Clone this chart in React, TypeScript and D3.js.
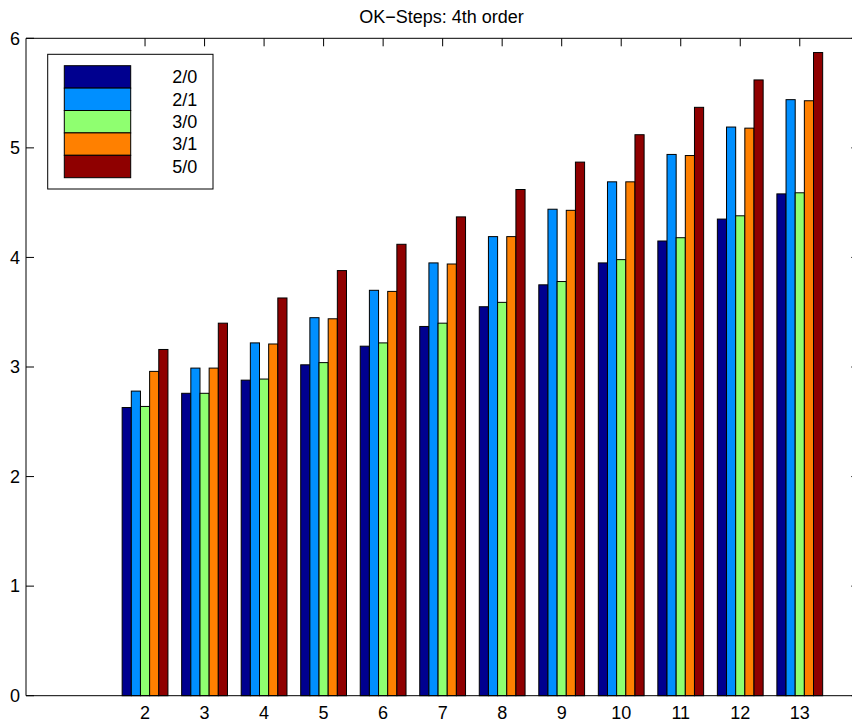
import React from "react";
import * as d3 from "d3";

// Step counts on the x axis
const steps = [2, 3, 4, 5, 6, 7, 8, 9, 10, 11, 12, 13];

// Series labels and colours
const seriesNames = ["2/0", "2/1", "3/0", "3/1", "5/0"];
const seriesColors = ["#00008F", "#008FFF", "#8FFF70", "#FF8000", "#8F0000"];

// Values per series, one entry per step
const s20 = [2.63, 2.76, 2.88, 3.02, 3.19, 3.37, 3.55, 3.75, 3.95, 4.15, 4.35, 4.58];
const s21 = [2.78, 2.99, 3.22, 3.45, 3.70, 3.95, 4.19, 4.44, 4.69, 4.94, 5.19, 5.44];
const s30 = [2.64, 2.76, 2.89, 3.04, 3.22, 3.40, 3.59, 3.78, 3.98, 4.18, 4.38, 4.59];
const s31 = [2.96, 2.99, 3.21, 3.44, 3.69, 3.94, 4.19, 4.43, 4.69, 4.93, 5.18, 5.43];
const s50 = [3.16, 3.40, 3.63, 3.88, 4.12, 4.37, 4.62, 4.87, 5.12, 5.37, 5.62, 5.87];
const seriesValues = [s20, s21, s30, s31, s50];

const yTicks = [0, 1, 2, 3, 4, 5, 6];

const W = 852;
const H = 724;
const left = 26;
const right = 859.3;
const top = 38.3;
const bottom = 695.7;
const tickLen = 8;
const font = "'Liberation Sans', Arial, Helvetica, sans-serif";
const fs = 18;

export default function App() {
  const x = d3.scaleLinear().domain([0, 14]).range([left, right]);
  const y = d3.scaleLinear().domain([0, 6]).range([bottom, top]);

  const n = seriesNames.length;
  const groupWidth = Math.min(0.8, n / (n + 1.5));
  const barW = groupWidth / n;

  return (
    <svg
      width={W}
      height={H}
      style={{ position: "absolute", left: 0, top: 0, background: "#fff" }}
      fontFamily={font}
    >
      <rect x={0} y={0} width={W} height={H} fill="#fff" />
      <text x={441.5} y={23} textAnchor="middle" fontSize={fs} fill="#000">
        OK−Steps: 4th order
      </text>

      {/* bars */}
      {steps.map((s, i) => (
        <g key={s}>
          {seriesValues.map((vals, k) => {
            const x0 = x(s - groupWidth / 2 + k * barW);
            const x1 = x(s - groupWidth / 2 + (k + 1) * barW);
            return (
              <rect
                key={k}
                x={x0}
                y={y(vals[i])}
                width={x1 - x0}
                height={y(0) - y(vals[i])}
                fill={seriesColors[k]}
                stroke="#000"
                strokeWidth={1}
              />
            );
          })}
        </g>
      ))}

      {/* axes box */}
      <g stroke="#000" strokeWidth={1} fill="none">
        <line x1={left} x2={right} y1={bottom} y2={bottom} />
        <line x1={left} x2={right} y1={top} y2={top} />
        <line x1={left} x2={left} y1={top} y2={bottom} />
        <line x1={right} x2={right} y1={top} y2={bottom} />
        {yTicks.map((t) => (
          <g key={t}>
            <line x1={left} x2={left + tickLen} y1={y(t)} y2={y(t)} />
            <line x1={right} x2={right - tickLen} y1={y(t)} y2={y(t)} />
          </g>
        ))}
        {steps.map((s) => (
          <line key={s} x1={x(s)} x2={x(s)} y1={top} y2={top + tickLen} />
        ))}
      </g>

      {/* tick labels */}
      {yTicks.map((t) => (
        <text
          key={t}
          x={20}
          y={y(t)}
          dy="0.35em"
          textAnchor="end"
          fontSize={fs}
          fill="#000"
        >
          {t}
        </text>
      ))}
      {steps.map((s) => (
        <text key={s} x={x(s)} y={718.5} textAnchor="middle" fontSize={fs} fill="#000">
          {s}
        </text>
      ))}

      {/* legend */}
      <g>
        <rect x={47.7} y={54.3} width={165.3} height={134.7} fill="#fff" stroke="#000" strokeWidth={1} />
        {seriesNames.map((name, k) => {
          const ry = 65.7 + k * 22.4;
          return (
            <g key={name}>
              <rect
                x={64.3}
                y={ry}
                width={66.4}
                height={22.4}
                fill={seriesColors[k]}
                stroke="#000"
                strokeWidth={1}
              />
              <text x={172.3} y={ry + 11.2} dy="0.35em" fontSize={fs} fill="#000">
                {name}
              </text>
            </g>
          );
        })}
      </g>
    </svg>
  );
}
